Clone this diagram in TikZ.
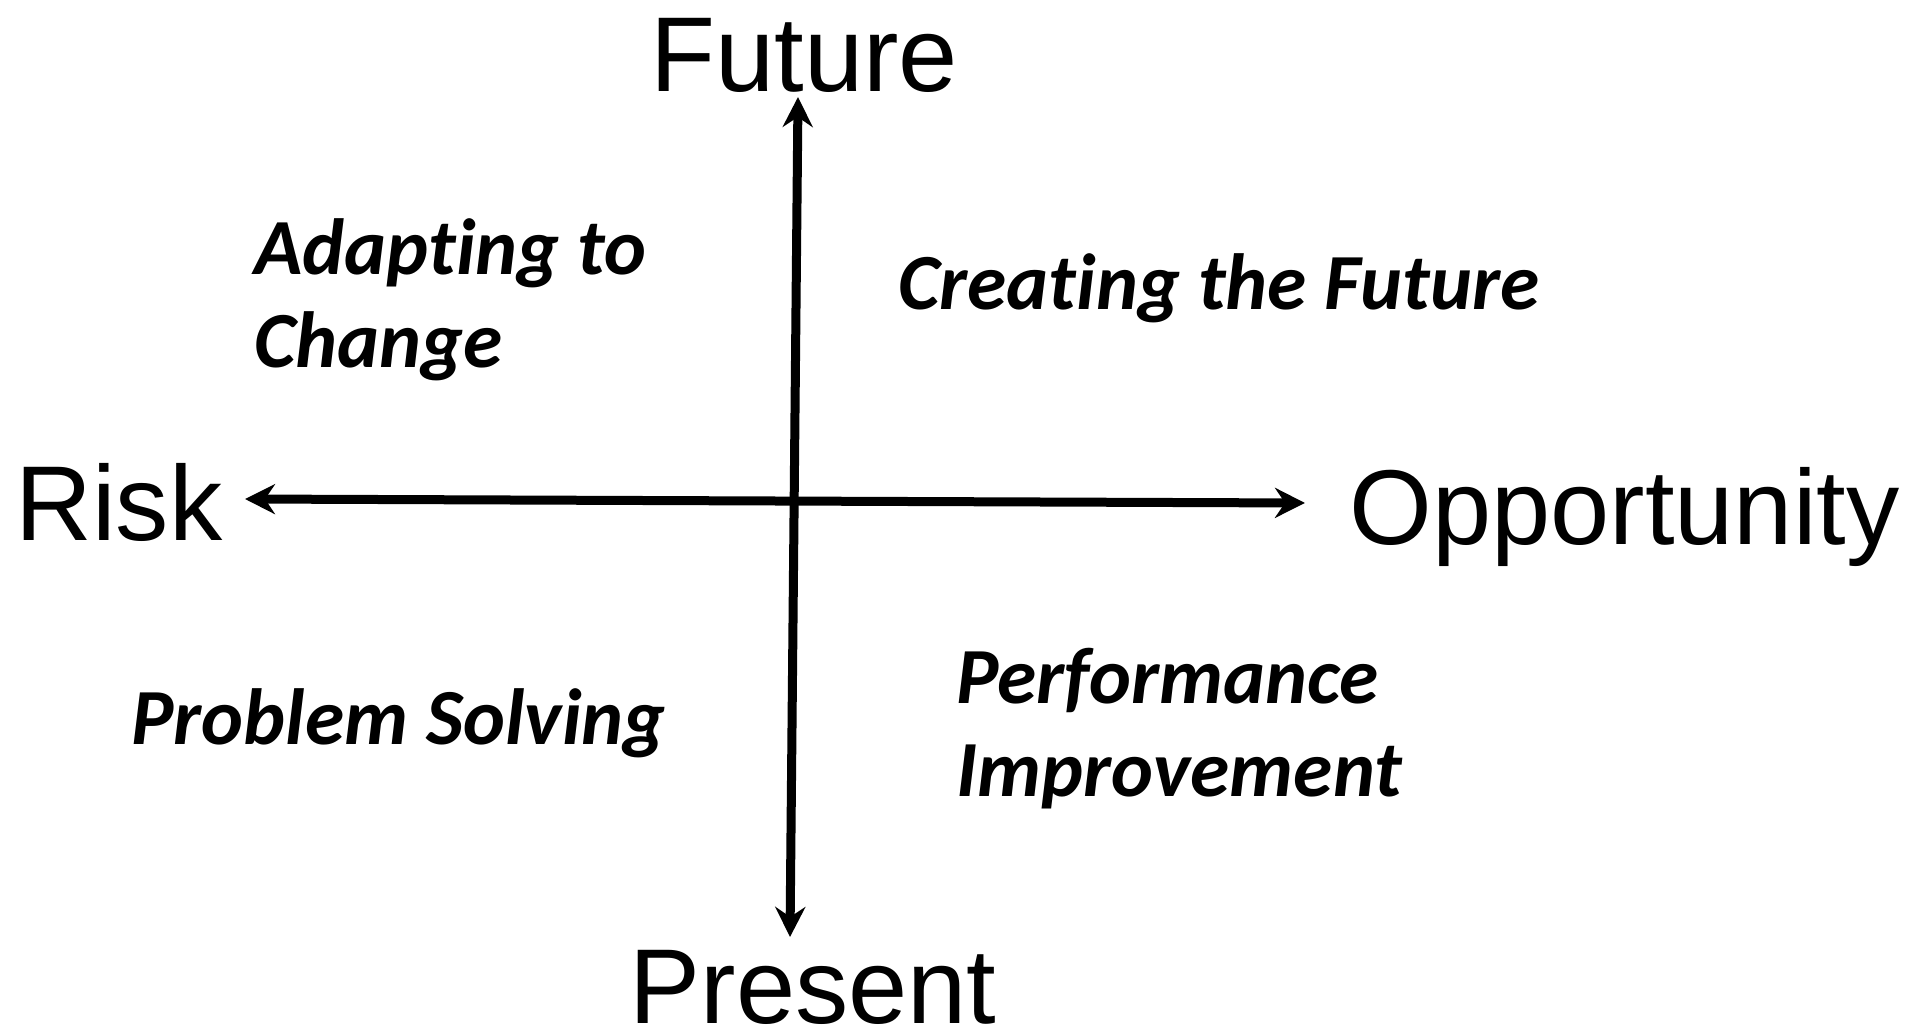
\documentclass[tikz,border=0pt]{standalone}
\usepackage{fontspec}
\setmainfont{Liberation Sans}
\newfontfamily\quadfont{Carlito}[Ligatures={NoCommon}]
\usetikzlibrary{arrows.meta}
\begin{document}
\begin{tikzpicture}[x=0.5pt,y=-0.5pt,
  axis/.style={line width=4.5pt,
    {Stealth[length=15pt,width=15pt,inset=5pt]}-{Stealth[length=15pt,width=15pt,inset=5pt]}},
  pole/.style={font=\fontsize{53.2}{60}\selectfont, inner sep=0pt},
  quad/.style={font=\quadfont\bfseries\itshape\fontsize{39.8}{46.5}\selectfont,
    inner sep=0pt, align=left}]
\useasboundingbox (0,0) rectangle (1921,1031);

% axis labels
\node[pole, anchor=base] (future) at (804,92) {Future};
\node[pole, anchor=base] (present) at (813,1023) {Present};
\node[pole, anchor=base west] (risk) at (15,540) {Risk};
\node[pole, anchor=base west] (opp) at (1349,545) {Opportunity};

% arrow ends
\coordinate (vtop) at (798,97);
\coordinate (vbot) at (790,937);
\coordinate (hleft) at (245,499);
\coordinate (hright) at (1305,503);

\draw[axis] (vbot) -- (vtop);
\draw[axis] (hleft) -- (hright);

% quadrant labels (base anchor sits on the last line)
\node[quad, anchor=base west] (adapt) at (254,368) {Adapting to\\Change};
\node[quad, anchor=base west] (create) at (898,310) {Creating the Future};
\node[quad, anchor=base west] (solve) at (131,744) {Problem Solving};
\node[quad, anchor=base west] (perf) at (956,796) {Performance\\Improvement};
\end{tikzpicture}
\end{document}
